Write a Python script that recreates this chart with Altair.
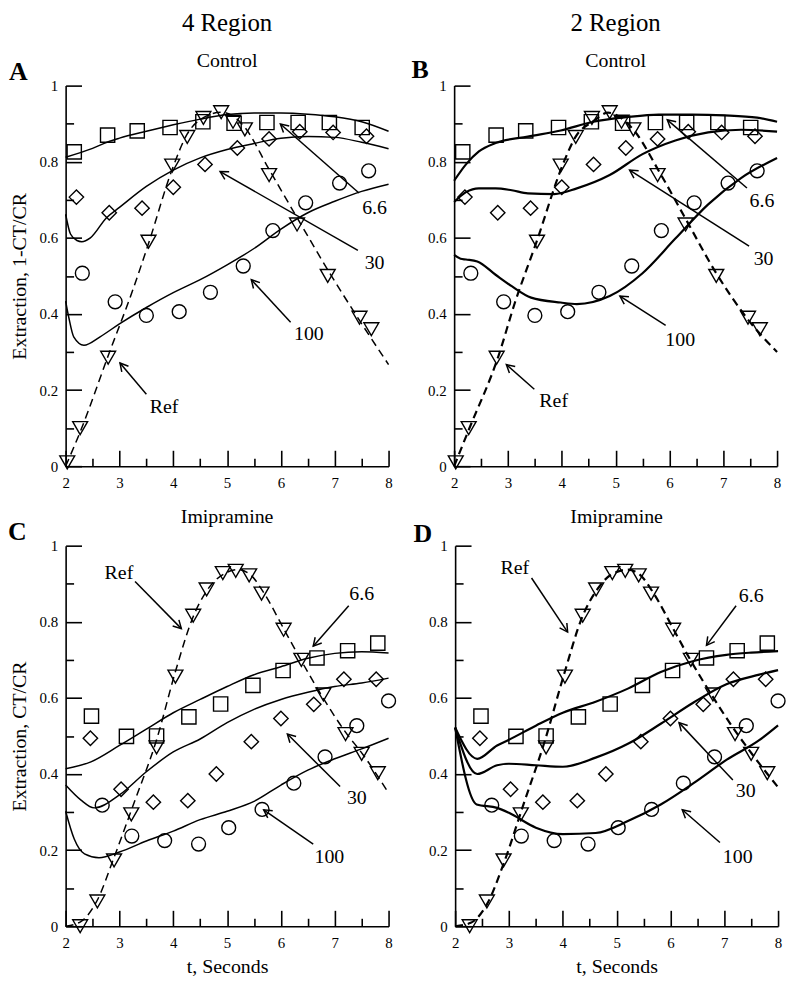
import math
import altair as alt
import pandas as pd

FONT = "Liberation Serif"

# ---------------- measured data: Control (panels A and B share the points) ----------------
SQ_T_AB = [2.16, 2.78, 3.33, 3.94, 4.55, 5.13, 5.74, 6.32, 6.90, 7.51]
SQ_V_AB = [0.826, 0.870, 0.881, 0.890, 0.905, 0.901, 0.903, 0.903, 0.903, 0.890]
DI_T_AB = [2.20, 2.81, 3.42, 4.00, 4.59, 5.19, 5.78, 6.35, 6.97, 7.59]
DI_V_AB = [0.707, 0.666, 0.678, 0.733, 0.793, 0.836, 0.860, 0.879, 0.877, 0.867]
CI_T_AB = [2.31, 2.92, 3.50, 4.11, 4.69, 5.30, 5.85, 6.46, 7.09, 7.63]
CI_V_AB = [0.507, 0.432, 0.396, 0.406, 0.457, 0.526, 0.619, 0.692, 0.744, 0.776]
TR_T_AB = [2.03, 2.27, 2.79, 3.54, 3.98, 4.26, 4.56, 4.89, 5.11, 5.33, 5.78, 6.30, 6.87, 7.46, 7.68]
TR_V_AB = [0.010, 0.100, 0.285, 0.590, 0.790, 0.865, 0.915, 0.930, 0.905, 0.885, 0.765, 0.635, 0.500, 0.390, 0.360]

# ---------------- measured data: Imipramine (panels C and D share the points) ----------------
SQ_T_CD = [2.48, 3.13, 3.69, 4.29, 4.88, 5.48, 6.04, 6.67, 7.24, 7.80]
SQ_V_CD = [0.552, 0.499, 0.500, 0.550, 0.584, 0.633, 0.672, 0.705, 0.724, 0.744]
DI_T_CD = [2.46, 3.03, 3.63, 4.27, 4.80, 5.45, 6.00, 6.61, 7.17, 7.77]
DI_V_CD = [0.494, 0.360, 0.326, 0.330, 0.400, 0.485, 0.546, 0.583, 0.649, 0.649]
CI_T_CD = [2.68, 3.23, 3.84, 4.47, 5.03, 5.65, 6.24, 6.82, 7.41, 8.00]
CI_V_CD = [0.318, 0.237, 0.225, 0.216, 0.259, 0.307, 0.376, 0.445, 0.527, 0.592]
TR_T_CD = [2.27, 2.59, 2.90, 3.22, 3.69, 4.04, 4.37, 4.62, 4.92, 5.16, 5.41, 5.64, 6.05, 6.38, 6.79, 7.20, 7.50, 7.80]
TR_V_CD = [0.000, 0.065, 0.173, 0.294, 0.470, 0.656, 0.816, 0.885, 0.928, 0.934, 0.922, 0.874, 0.779, 0.700, 0.609, 0.505, 0.453, 0.402]

# ---------------- model curves ----------------
A66_T = [2.0, 2.5, 2.78, 3.0, 3.5, 4.0, 4.5, 5.0, 5.5, 6.0, 6.5, 7.0, 7.5, 8.0]
A66_V = [0.812, 0.835, 0.852, 0.862, 0.880, 0.897, 0.912, 0.924, 0.928, 0.928, 0.925, 0.918, 0.905, 0.880]
A30_T = [2.0, 2.09, 2.21, 2.30, 2.46, 2.76, 3.0, 3.5, 4.0, 4.5, 5.0, 5.5, 6.0, 6.5, 7.0, 7.5, 8.0]
A30_V = [0.662, 0.610, 0.593, 0.590, 0.600, 0.653, 0.680, 0.735, 0.778, 0.810, 0.832, 0.848, 0.862, 0.866, 0.864, 0.851, 0.834]
A100_T = [2.0, 2.06, 2.15, 2.34, 2.64, 3.0, 3.5, 4.0, 4.5, 5.0, 5.5, 6.0, 6.5, 7.0, 7.5, 8.0]
A100_V = [0.434, 0.390, 0.340, 0.318, 0.340, 0.374, 0.417, 0.456, 0.490, 0.529, 0.572, 0.623, 0.666, 0.696, 0.722, 0.741]
AREF_T = [2.0, 2.27, 2.79, 3.25, 3.54, 3.98, 4.26, 4.56, 4.89, 5.11, 5.33, 5.78, 6.30, 6.87, 7.46, 8.0]
AREF_V = [0.0, 0.090, 0.290, 0.464, 0.585, 0.780, 0.873, 0.916, 0.930, 0.920, 0.890, 0.780, 0.653, 0.516, 0.383, 0.267]

B66_T = [2.0, 2.22, 2.46, 2.77, 3.37, 3.98, 4.59, 5.2, 5.8, 6.42, 7.02, 7.63, 8.0]
B66_V = [0.750, 0.793, 0.827, 0.849, 0.866, 0.882, 0.905, 0.917, 0.924, 0.924, 0.922, 0.916, 0.905]
B30_T = [2.0, 2.22, 2.46, 2.77, 3.07, 3.37, 3.86, 4.28, 4.89, 5.5, 6.11, 6.72, 7.33, 8.0]
B30_V = [0.694, 0.720, 0.730, 0.730, 0.725, 0.717, 0.715, 0.730, 0.765, 0.820, 0.856, 0.877, 0.884, 0.879]
B100_T = [2.0, 2.12, 2.22, 2.43, 2.77, 3.07, 3.43, 3.98, 4.28, 4.89, 5.5, 6.11, 6.72, 7.33, 8.0]
B100_V = [0.555, 0.545, 0.543, 0.538, 0.503, 0.473, 0.443, 0.430, 0.426, 0.447, 0.507, 0.598, 0.688, 0.757, 0.810]
BREF_T = [2.0, 2.27, 2.82, 3.13, 3.52, 4.04, 4.25, 4.59, 4.86, 5.14, 5.35, 5.81, 6.32, 6.87, 7.45, 8.0]
BREF_V = [0.0, 0.095, 0.288, 0.430, 0.585, 0.800, 0.864, 0.907, 0.929, 0.911, 0.881, 0.774, 0.645, 0.507, 0.387, 0.300]

C66_T = [2.0, 2.47, 3.0, 3.5, 4.0, 4.5, 5.0, 5.5, 6.0, 6.5, 7.0, 7.5, 8.0]
C66_V = [0.414, 0.432, 0.475, 0.518, 0.561, 0.596, 0.630, 0.661, 0.682, 0.704, 0.717, 0.721, 0.718]
C30_T = [2.0, 2.28, 2.53, 3.0, 3.5, 4.0, 4.5, 5.0, 5.5, 6.0, 6.5, 7.0, 7.5, 8.0]
C30_V = [0.371, 0.332, 0.311, 0.345, 0.406, 0.458, 0.492, 0.535, 0.570, 0.596, 0.615, 0.630, 0.639, 0.652]
C100_T = [2.0, 2.16, 2.35, 2.62, 3.0, 3.5, 4.0, 4.5, 5.0, 5.5, 6.0, 6.5, 7.0, 7.5, 8.0]
C100_V = [0.302, 0.229, 0.190, 0.180, 0.195, 0.224, 0.250, 0.280, 0.302, 0.328, 0.371, 0.410, 0.440, 0.466, 0.494]
CREF_T = [2.0, 2.29, 2.59, 2.90, 3.26, 3.69, 4.05, 4.36, 4.66, 4.97, 5.21, 5.46, 5.70, 6.07, 6.37, 6.80, 7.20, 7.53, 8.0]
CREF_V = [0.0, 0.013, 0.069, 0.181, 0.320, 0.490, 0.674, 0.810, 0.889, 0.928, 0.937, 0.920, 0.872, 0.777, 0.700, 0.596, 0.510, 0.450, 0.350]

D66_T = [2.0, 2.41, 2.78, 3.0, 3.5, 4.0, 4.61, 5.22, 5.82, 6.43, 7.04, 7.5, 8.0]
D66_V = [0.522, 0.440, 0.475, 0.490, 0.527, 0.561, 0.590, 0.625, 0.668, 0.697, 0.713, 0.719, 0.723]
D30_T = [2.0, 2.41, 2.78, 3.0, 3.5, 4.0, 4.61, 5.22, 5.82, 6.43, 7.04, 7.65, 8.0]
D30_V = [0.522, 0.400, 0.423, 0.427, 0.423, 0.419, 0.443, 0.480, 0.532, 0.588, 0.636, 0.661, 0.673]
D100_T = [2.0, 2.40, 2.78, 3.0, 3.5, 4.0, 4.61, 5.22, 5.82, 6.43, 7.04, 7.65, 8.0]
D100_V = [0.522, 0.320, 0.311, 0.298, 0.259, 0.242, 0.245, 0.277, 0.320, 0.376, 0.437, 0.489, 0.528]
DREF_T = [2.0, 2.29, 2.60, 2.90, 3.27, 3.66, 4.03, 4.36, 4.64, 4.91, 5.21, 5.46, 5.70, 6.07, 6.37, 6.80, 7.22, 7.53, 8.0]
DREF_V = [0.0, 0.009, 0.060, 0.164, 0.320, 0.484, 0.665, 0.812, 0.885, 0.925, 0.937, 0.920, 0.872, 0.777, 0.700, 0.600, 0.510, 0.450, 0.365]

# ---------------- annotations: label, label pos, arrow tail, arrow head ----------------
ARROW_LABELS = ["6.6", "30", "100", "Ref"]
A_LBL = [(7.74, 0.679), (7.74, 0.533), (6.52, 0.348), (3.83, 0.155)]
A_TAIL = [(7.45, 0.718), (7.43, 0.567), (6.18, 0.378), (3.50, 0.189)]
A_HEAD = [(5.99, 0.899), (4.87, 0.774), (5.45, 0.490), (3.01, 0.271)]
B_LBL = [(7.72, 0.698), (7.75, 0.544), (6.20, 0.331), (3.85, 0.170)]
B_TAIL = [(7.44, 0.731), (7.48, 0.578), (5.93, 0.370), (3.49, 0.202)]
B_HEAD = [(5.96, 0.910), (5.26, 0.778), (5.08, 0.447), (2.97, 0.267)]
C_LBL = [(7.50, 0.872), (7.41, 0.337), (6.90, 0.181), (2.99, 0.928)]
C_TAIL = [(7.26, 0.842), (7.10, 0.367), (6.60, 0.216), (3.29, 0.906)]
C_HEAD = [(6.60, 0.736), (6.12, 0.505), (5.68, 0.306), (4.15, 0.782)]
D_LBL = [(7.50, 0.868), (7.40, 0.354), (7.25, 0.181), (3.11, 0.941)]
D_TAIL = [(7.22, 0.842), (7.16, 0.384), (6.92, 0.220), (3.42, 0.915)]
D_HEAD = [(6.67, 0.738), (6.16, 0.535), (6.22, 0.306), (4.09, 0.773)]

COLUMN_TITLES = ["4 Region", "2 Region"]
ROW_TITLES = ["Control", "Imipramine"]
PANEL_LETTERS = ["A", "B", "C", "D"]

X_MAJOR = [2, 3, 4, 5, 6, 7, 8]
X_MINOR = [2.5, 3.5, 4.5, 5.5, 6.5, 7.5]
Y_MAJOR = [0, 0.2, 0.4, 0.6, 0.8, 1]
Y_MINOR = [0.1, 0.3, 0.5, 0.7, 0.9]

W, H = 325, 383
PX = W / 6.0
PY = H / 1.0
ARROW_PATH = "M -1 -0.55 L 0 0 L -1 0.55"

xs = alt.Scale(domain=[2, 8], nice=False, zero=False)
ys = alt.Scale(domain=[0, 1], nice=False, zero=False)


def axes(xtitle, ytitle):
    common = dict(grid=False, tickColor="black", tickWidth=1.6, labelFont=FONT,
                  labelFontSize=15, labelColor="black")
    xdom = alt.Axis(orient="bottom", domain=True, domainColor="black", domainWidth=1.6,
                    ticks=False, labels=False, grid=False, title=None)
    ydom = alt.Axis(orient="left", domain=True, domainColor="black", domainWidth=1.6,
                    ticks=False, labels=False, grid=False, title=None)
    xmin = alt.Axis(orient="bottom", values=X_MINOR, tickSize=8, offset=-8, domain=False,
                    labels=False, title=None, **common)
    ymin = alt.Axis(orient="left", values=Y_MINOR, tickSize=8, offset=-8, domain=False,
                    labels=False, title=None, **common)
    xmaj = alt.Axis(orient="bottom", values=X_MAJOR, tickSize=16, offset=-16, domain=False,
                    labelFlush=False, labelPadding=9, format="~g", title=xtitle,
                    titleFont=FONT, titleFontSize=20, titleFontWeight="normal",
                    titleColor="black", titlePadding=7, **common)
    ymaj = alt.Axis(orient="left", values=Y_MAJOR, tickSize=16, offset=-16, domain=False,
                    labelFlush=False, labelPadding=8, format="~g", title=ytitle,
                    titleFont=FONT, titleFontSize=20, titleFontWeight="normal",
                    titleColor="black", titlePadding=10, **common)
    return xdom, ydom, xmin, ymin, xmaj, ymaj


def pts_df(t, v):
    return pd.DataFrame({"t": t, "v": v})


def header(txt, size, ypix, xpix, align="center", weight="normal"):
    return alt.Chart(pd.DataFrame({"txt": [txt]})).mark_text(
        font=FONT, fontSize=size, fontWeight=weight, color="black", align=align,
        baseline="alphabetic").encode(x=alt.value(xpix), y=alt.value(ypix), text="txt:N")


def panel(points, curves, ref, lbl, tail, head, letter, ldx, ldy, heads_txt,
          xtitle, ytitle, lw):
    xdom, ydom, xmin, ymin, xmaj, ymaj = axes(xtitle, ytitle)
    (sqt, sqv), (dit, div), (cit, civ), (trt, trv) = points
    pt = dict(filled=False, color="black", strokeWidth=1.4, opacity=1)

    sq = alt.Chart(pts_df(sqt, sqv)).mark_point(shape="square", size=205, **pt).encode(
        x=alt.X("t:Q", scale=xs, axis=xdom), y=alt.Y("v:Q", scale=ys, axis=ydom))
    di = alt.Chart(pts_df(dit, div)).mark_point(shape="diamond", size=210, **pt).encode(
        x=alt.X("t:Q", scale=xs, axis=xmin), y=alt.Y("v:Q", scale=ys, axis=ymin))
    ci = alt.Chart(pts_df(cit, civ)).mark_point(shape="circle", size=195, **pt).encode(
        x=alt.X("t:Q", scale=xs, axis=xmaj), y=alt.Y("v:Q", scale=ys, axis=ymaj))
    tr = alt.Chart(pts_df(trt, trv)).mark_point(shape="triangle-down", size=225, **pt).encode(
        x=alt.X("t:Q", scale=xs, axis=None), y=alt.Y("v:Q", scale=ys, axis=None))

    rows = []
    for name, (ct, cv) in curves.items():
        for a, b in zip(ct, cv):
            rows.append({"curve": name, "t": a, "v": b})
    cdf = pd.DataFrame(rows)
    lines = alt.Chart(cdf).mark_line(color="black", strokeWidth=lw, interpolate="monotone").encode(
        x=alt.X("t:Q", scale=xs, axis=None), y=alt.Y("v:Q", scale=ys, axis=None),
        detail="curve:N", order="t:Q")
    rdf = pts_df(ref[0], ref[1])
    refl = alt.Chart(rdf).mark_line(color="black", strokeWidth=lw, strokeDash=[8, 5],
                                    interpolate="monotone").encode(
        x=alt.X("t:Q", scale=xs, axis=None), y=alt.Y("v:Q", scale=ys, axis=None), order="t:Q")

    arows = []
    for name, (lx, ly), (tx, ty), (hx, hy) in zip(ARROW_LABELS, lbl, tail, head):
        dx = (hx - tx) * PX
        dy = -(hy - ty) * PY
        ang = math.degrees(math.atan2(dy, dx)) % 360
        arows.append({"label": name, "lx": lx, "ly": ly, "tx": tx, "ty": ty,
                      "hx": hx, "hy": hy, "ang": ang})
    adf = pd.DataFrame(arows)
    shafts = alt.Chart(adf).mark_rule(color="black", strokeWidth=1.5).encode(
        x=alt.X("tx:Q", scale=xs, axis=None), y=alt.Y("ty:Q", scale=ys, axis=None),
        x2="hx:Q", y2="hy:Q")
    heads = alt.Chart(adf).mark_point(shape=ARROW_PATH, size=256, filled=False, color="black",
                                      strokeWidth=1.5, opacity=1).encode(
        x=alt.X("hx:Q", scale=xs, axis=None), y=alt.Y("hy:Q", scale=ys, axis=None),
        angle=alt.Angle("ang:Q", scale=None))
    texts = alt.Chart(adf).mark_text(font=FONT, fontSize=20, color="black", align="center",
                                     baseline="middle").encode(
        x=alt.X("lx:Q", scale=xs, axis=None), y=alt.Y("ly:Q", scale=ys, axis=None),
        text="label:N")
    layers = [sq, di, ci, tr, lines, refl, shafts, heads, texts,
              header(letter, 26, ldy, ldx, align="left", weight="bold")]
    for txt, size, ypix in heads_txt:
        layers.append(header(txt, size, ypix, W / 2))

    return alt.layer(*layers).properties(width=W, height=H).resolve_axis(
        x="independent", y="independent")


PTS_AB = [(SQ_T_AB, SQ_V_AB), (DI_T_AB, DI_V_AB), (CI_T_AB, CI_V_AB), (TR_T_AB, TR_V_AB)]
PTS_CD = [(SQ_T_CD, SQ_V_CD), (DI_T_CD, DI_V_CD), (CI_T_CD, CI_V_CD), (TR_T_CD, TR_V_CD)]

pA = panel(PTS_AB, {"6.6": (A66_T, A66_V), "30": (A30_T, A30_V), "100": (A100_T, A100_V)},
           (AREF_T, AREF_V), A_LBL, A_TAIL, A_HEAD, PANEL_LETTERS[0], -57, -6,
           [(COLUMN_TITLES[0], 25, -54.5), (ROW_TITLES[0], 20, -18.5)],
           None, "Extraction, 1-CT/CR", 1.5)
pB = panel(PTS_AB, {"6.6": (B66_T, B66_V), "30": (B30_T, B30_V), "100": (B100_T, B100_V)},
           (BREF_T, BREF_V), B_LBL, B_TAIL, B_HEAD, PANEL_LETTERS[1], -43, -8,
           [(COLUMN_TITLES[1], 25, -54.5), (ROW_TITLES[0], 20, -18.5)],
           None, None, 2.2)
pC = panel(PTS_CD, {"6.6": (C66_T, C66_V), "30": (C30_T, C30_V), "100": (C100_T, C100_V)},
           (CREF_T, CREF_V), C_LBL, C_TAIL, C_HEAD, PANEL_LETTERS[2], -58, -6,
           [(ROW_TITLES[1], 20, -23)],
           "t, Seconds", "Extraction, CT/CR", 1.5)
pD = panel(PTS_CD, {"6.6": (D66_T, D66_V), "30": (D30_T, D30_V), "100": (D100_T, D100_V)},
           (DREF_T, DREF_V), D_LBL, D_TAIL, D_HEAD, PANEL_LETTERS[3], -42, -4,
           [(ROW_TITLES[1], 20, -23)],
           "t, Seconds", None, 2.2)

row1 = alt.hconcat(pA, pB, spacing=19)
row2 = alt.hconcat(pC, pD, spacing=15)
chart = alt.vconcat(row1, row2, spacing=17).properties(
    padding={"left": 0, "top": 0, "right": 0, "bottom": 0}, background="white"
).configure(font=FONT).configure_view(strokeWidth=0).configure_axis(
    labelFont=FONT, titleFont=FONT).configure_text(font=FONT)

chart.save("out.html", embed_options={"renderer": "svg", "actions": False})
